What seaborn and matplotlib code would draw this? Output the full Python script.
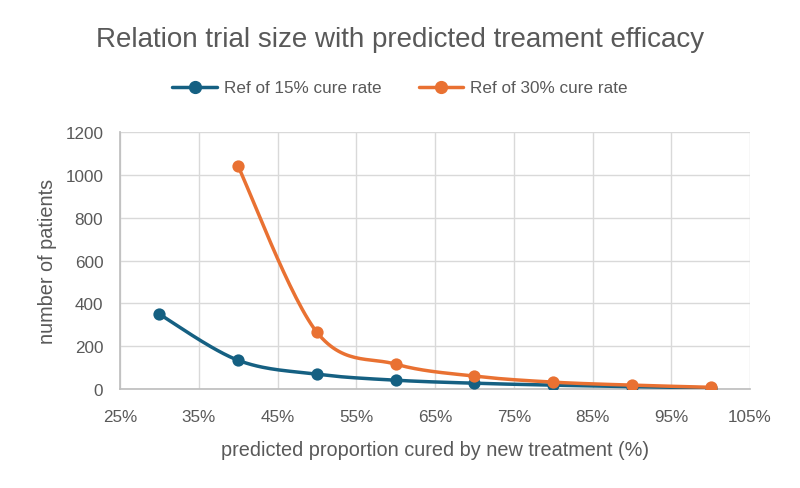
import numpy as np
import pandas as pd
import matplotlib
matplotlib.use('Agg')
import matplotlib.pyplot as plt
from matplotlib.lines import Line2D
import seaborn as sns

# data
cured_15 = [30, 40, 50, 60, 70, 80, 90, 100]
patients_15 = [350, 135, 70, 42, 28, 19, 12, 6]
cured_30 = [40, 50, 60, 70, 80, 90, 100]
patients_30 = [1040, 266, 117, 61, 33, 19, 9]
series_names = ['Ref of 15% cure rate', 'Ref of 30% cure rate']
xticks = [25, 35, 45, 55, 65, 75, 85, 95, 105]
yticks = [0, 200, 400, 600, 800, 1000, 1200]

BLUE = '#156082'
ORANGE = '#E97132'
GREY = '#595959'


def smooth(x, y, n=30):
    # Catmull-Rom curve through the points (like Excel's smoothed line)
    x = np.asarray(x, float)
    y = np.asarray(y, float)
    px = np.concatenate([[x[0]], x, [x[-1]]])
    py = np.concatenate([[y[0]], y, [y[-1]]])
    xs, ys = [], []
    for i in range(1, len(px) - 2):
        t = np.linspace(0, 1, n)
        for p, out in ((px, xs), (py, ys)):
            p0, p1, p2, p3 = p[i - 1], p[i], p[i + 1], p[i + 2]
            out.extend(0.5 * (2 * p1 + (-p0 + p2) * t
                              + (2 * p0 - 5 * p1 + 4 * p2 - p3) * t ** 2
                              + (-p0 + 3 * p1 - 3 * p2 + p3) * t ** 3))
    return np.array(xs), np.array(ys)


sns.set_theme(style='white')
plt.rcParams['font.family'] = ['Liberation Sans', 'DejaVu Sans']

fig, ax = plt.subplots(figsize=(8, 4.89), dpi=100)
fig.subplots_adjust(left=0.15, right=0.9375, top=0.728, bottom=0.202)

for xs, ys, col in ((cured_15, patients_15, BLUE), (cured_30, patients_30, ORANGE)):
    sx, sy = smooth(xs, ys)
    curve = pd.DataFrame({'x': sx, 'y': sy})
    sns.lineplot(data=curve, x='x', y='y', ax=ax, color=col, lw=2.5, sort=False,
                 estimator=None, zorder=3)
    pts = pd.DataFrame({'x': xs, 'y': ys})
    sns.scatterplot(data=pts, x='x', y='y', ax=ax, color=col, s=78,
                    edgecolor=col, linewidth=0, zorder=3)

ax.set_xlim(25, 105)
ax.set_ylim(0, 1200)
ax.set_xticks(xticks)
ax.set_xticklabels([f'{t}%' for t in xticks])
ax.set_yticks(yticks)
ax.grid(True, color='#D9D9D9', lw=1)
ax.set_axisbelow(True)
for side in ['top', 'right']:
    ax.spines[side].set_visible(False)
for side in ['left', 'bottom']:
    ax.spines[side].set_color('#BFBFBF')
ax.tick_params(colors=GREY, labelsize=12.3, length=0)
ax.tick_params(axis='x', pad=14)
ax.tick_params(axis='y', pad=12)
ax.set_xlabel('predicted proportion cured by new treatment (%)', color=GREY,
              fontsize=14.3, labelpad=12)
ax.set_ylabel('number of patients', color=GREY, fontsize=14.3, labelpad=6)

fig.suptitle('Relation trial size with predicted treament efficacy', color=GREY,
             fontsize=20, y=0.945)

handles = [Line2D([], [], color=c, lw=2.5, marker='o', markersize=8.5)
           for c in (BLUE, ORANGE)]
leg = fig.legend(handles, series_names, loc='center', bbox_to_anchor=(0.5, 0.818),
                 ncol=2, frameon=False, fontsize=12.3, handlelength=2.6,
                 columnspacing=2.2, handletextpad=0.4)
for t in leg.get_texts():
    t.set_color(GREY)

fig.savefig('out.png', dpi=100)
